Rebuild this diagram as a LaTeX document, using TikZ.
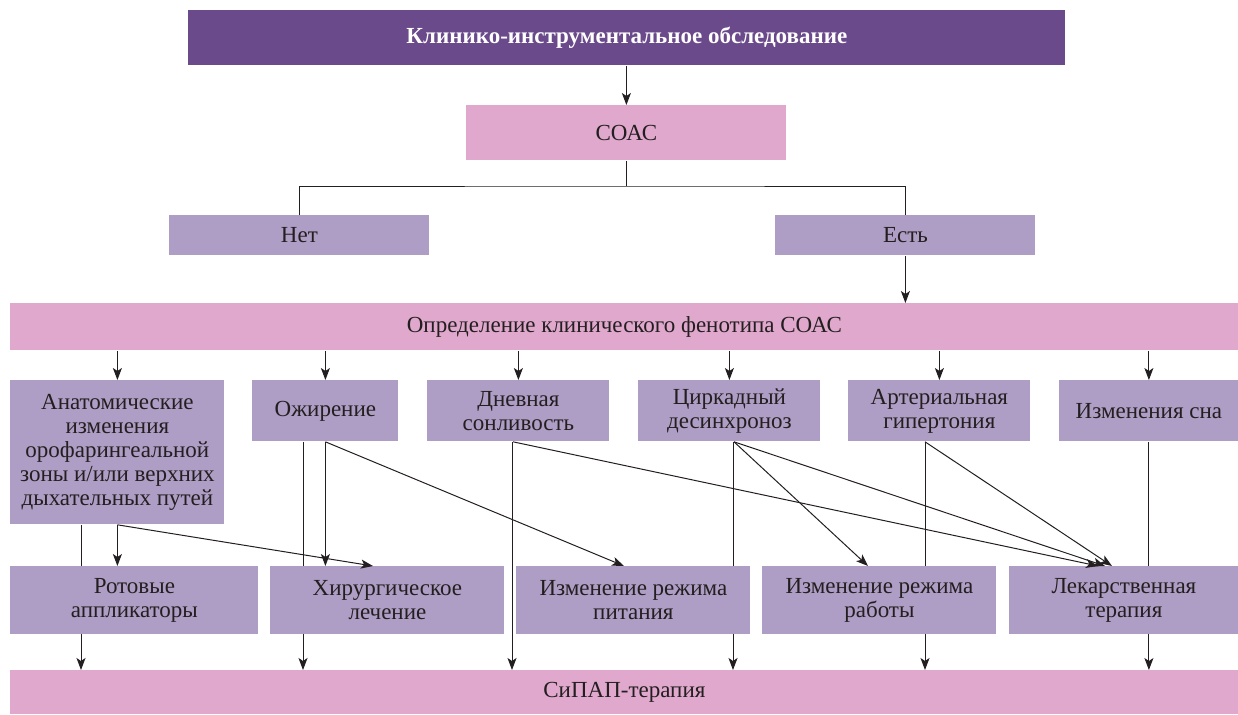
\documentclass[tikz,border=0pt]{standalone}
\usepackage{fontspec}
\setmainfont{Liberation Serif}
\usetikzlibrary{arrows.meta,backgrounds}
\definecolor{hdrpurple}{HTML}{6B4A8B}
\definecolor{lilac}{HTML}{AE9DC4}
\definecolor{rose}{HTML}{E0A8CC}
\definecolor{ink}{HTML}{231F20}

\begin{document}
\begin{tikzpicture}[x=0.5pt, y=-0.5pt, >={Stealth[length=6pt, width=4.5pt, inset=1.5pt]},
    every node/.style = {rectangle, anchor=north west, inner sep=0pt, align=center, text=ink,
      font=\fontsize{11.5}{12}\selectfont},
    head/.style = {fill=hdrpurple, text=white, font=\fontsize{11.5}{12}\selectfont\bfseries},
    rosebox/.style = {fill=rose},
    lilacbox/.style = {fill=lilac},
    link/.style = {draw=ink, line width=0.5pt}
    ]
    \useasboundingbox (0,0) rectangle (1238,714);

    \node[head, minimum width=438.5pt, minimum height=27.5pt] (top) at (188,10) {Клинико-инструментальное обследование};
    \node[rosebox, minimum width=160pt, minimum height=27.5pt] (osa) at (466,105) {СОАС};
    \node[lilacbox, minimum width=130pt, minimum height=20pt] (no) at (169,215) {Нет};
    \node[lilacbox, minimum width=130pt, minimum height=20pt] (yes) at (775,215) {Есть};
    \node[rosebox, minimum width=614pt, minimum height=23.5pt] (pheno) at (10,303) {Определение клинического фенотипа СОАС};

    \node[lilacbox, minimum width=107pt, minimum height=72pt] (anat) at (10,380) {Анатомические\\изменения\\орофарингеальной\\зоны и/или верхних\\дыхательных путей};
    \node[lilacbox, minimum width=73pt, minimum height=30.5pt] (obes) at (252,380) {Ожирение};
    \node[lilacbox, minimum width=91pt, minimum height=30.5pt] (sleepy) at (427,380) {Дневная\\сонливость};
    \node[lilacbox, minimum width=91pt, minimum height=30.5pt] (circ) at (638,380) {Циркадный\\десинхроноз};
    \node[lilacbox, minimum width=91pt, minimum height=30.5pt] (hyper) at (848,380) {Артериальная\\гипертония};
    \node[lilacbox, minimum width=89.5pt, minimum height=30.5pt] (sleep) at (1059,380) {Изменения сна};

    \node[lilacbox, minimum width=124pt, minimum height=34pt] (oral) at (10,566) {Ротовые\\аппликаторы};
    \node[lilacbox, minimum width=117pt, minimum height=34pt] (surg) at (270,566) {Хирургическое\\лечение};
    \node[lilacbox, minimum width=117pt, minimum height=34pt] (diet) at (516,566) {Изменение режима\\питания};
    \node[lilacbox, minimum width=117pt, minimum height=34pt] (work) at (762,566) {Изменение режима\\работы};
    \node[lilacbox, minimum width=114.5pt, minimum height=34pt] (drug) at (1009,566) {Лекарственная\\терапия};

    \node[rosebox, minimum width=614pt, minimum height=22pt] (cpap) at (10,670) {СиПАП-терапия};

    \coordinate (split) at (osa.south |- 0,186);

    \draw[link, ->] (top.south -| osa.north) -- (osa.north);
    \draw[link] (osa.south) -- (split);
    \draw[link] (no.north) |- (split) -| (yes.north);
    \draw[link, ->] (yes.south) -- (yes.south |- pheno.north);

    \draw[link, ->] (anat.north |- pheno.south) -- (anat.north);
    \draw[link, ->] (obes.north |- pheno.south) -- (obes.north);
    \draw[link, ->] (sleepy.north |- pheno.south) -- (sleepy.north);
    \draw[link, ->] (circ.north |- pheno.south) -- (circ.north);
    \draw[link, ->] (hyper.north |- pheno.south) -- (hyper.north);
    \draw[link, ->] (sleep.north |- pheno.south) -- (sleep.north);

    \draw[link, ->] (anat.south) -- (anat.south |- oral.north);
    \draw[link, ->] (anat.south) -- (373,0 |- surg.north);
    \draw[link, ->] (obes.south) -- (obes.south |- surg.north);
    \draw[link, ->] (obes.south) -- (624,0 |- diet.north);
    \draw[link, ->] (sleepy.south -| 513,0) -- (1098,0 |- drug.north);
    \draw[link, ->] (circ.south -| 734,0) -- (868,0 |- work.north);
    \draw[link, ->] (circ.south -| 734,0) -- (1105,0 |- drug.north);
    \draw[link, ->] (hyper.south -| 925,0) -- (1112,0 |- drug.north);

    \begin{pgfonlayer}{background}
    \draw[link, ->] (anat.south -| 81,0) -- (81,0 |- cpap.north);
    \draw[link, ->] (obes.south -| 303,0) -- (303,0 |- cpap.north);
    \draw[link, ->] (sleepy.south -| 512,0) -- (512,0 |- cpap.north);
    \draw[link, ->] (circ.south -| 733,0) -- (733,0 |- cpap.north);
    \draw[link, ->] (hyper.south -| 925,0) -- (925,0 |- cpap.north);
    \draw[link, ->] (sleep.south) -- (sleep.south |- cpap.north);
    \end{pgfonlayer}
\end{tikzpicture}
\end{document}
